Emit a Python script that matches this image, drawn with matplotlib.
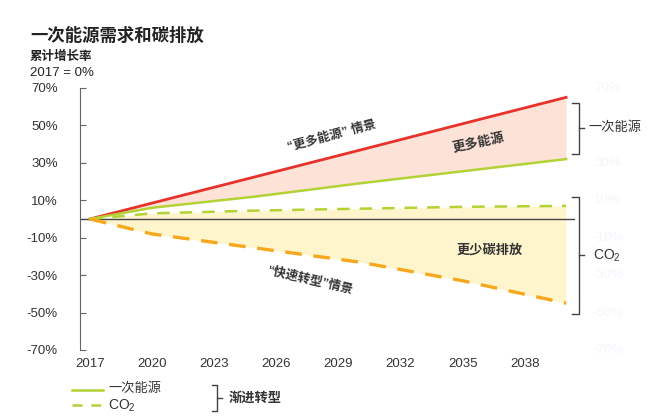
#!/usr/bin/env python3
import matplotlib
matplotlib.use("Agg")
import matplotlib.pyplot as plt

plt.rcParams["font.family"] = ["Liberation Sans", "Noto Sans CJK SC", "DejaVu Sans"]
plt.rcParams["axes.unicode_minus"] = False
plt.rcParams["mathtext.fontset"] = "custom"
plt.rcParams["mathtext.rm"] = "Liberation Sans"
plt.rcParams["mathtext.it"] = "Liberation Sans:italic"

INK = "#333333"
RED = "#e8312a"
GREEN = "#b2d235"
ORANGE = "#f6a81c"
PINK = "#fde3d7"
YELLOW = "#fff5cd"
GHOST = "#f2f5fa"

# data (cumulative growth vs 2017, %)
years = [2017, 2020, 2025, 2030, 2035, 2040]
energy_more = [0, 8.5, 22.6, 36.7, 50.9, 65]      # "更多能源"情景
energy_evolving = [0, 6, 12, 19, 25.5, 32]         # 渐进转型 一次能源
co2_evolving = [0, 3, 4.5, 5.5, 6.5, 7]            # 渐进转型 CO2
co2_rapid = [0, -8, -15.5, -23, -33, -45]          # "快速转型"情景

xticks = [2017, 2020, 2023, 2026, 2029, 2032, 2035, 2038]
yticks = [70, 50, 30, 10, -10, -30, -50, -70]

fig = plt.figure(figsize=(6.6, 4.2), dpi=100)
ax = fig.add_axes([80 / 660, 70 / 420, 495 / 660, 262 / 420])
ax.set_xlim(2016.52, 2040.43)
ax.set_ylim(-70, 70)

ax.fill_between(years, energy_more, energy_evolving, color=PINK, lw=0)
ax.fill_between(years, co2_evolving, co2_rapid, color=YELLOW, lw=0)
ax.axhline(0, color="#444444", lw=1)
ax.plot(years, energy_more, color=RED, lw=2)
ax.plot(years, energy_evolving, color=GREEN, lw=1.8)
ax.plot(years, co2_evolving, color=GREEN, lw=1.8, dashes=(5, 4))
ax.plot(years, co2_rapid, color=ORANGE, lw=2.4, dashes=(5, 3.5))

for s in ["top", "right", "bottom"]:
    ax.spines[s].set_visible(False)
ax.spines["left"].set_color("#666666")
ax.set_yticks(yticks)
ax.set_yticklabels([f"{v}%" for v in yticks], fontsize=9.5, color=INK)
ax.tick_params(axis="y", direction="in", length=4, color="#666666", pad=16)
ax.set_xticks(xticks)
ax.set_xticklabels([str(y) for y in xticks], fontsize=9.5, color=INK)
ax.tick_params(axis="x", length=0, pad=6)

# faint ghost labels on the right
for v in yticks:
    if v == 50:
        continue
    ax.text(2042.0, v, f"{v}%", fontsize=9.5, color=GHOST, va="center", ha="center", clip_on=False)

# in-chart labels
ax.text(2028.7, 44.4, "“更多能源” 情景", fontsize=9, color=INK, rotation=15,
        ha="center", va="center", weight="bold")
ax.text(2035.75, 40.6, "更多能源", fontsize=9.5, color=INK, rotation=12,
        ha="center", va="center", weight="bold")
ax.text(2036.3, -17, "更少碳排放", fontsize=9.5, color=INK, ha="center", va="center",
        weight="bold")
ax.text(2027.6, -33, "“快速转型”情景", fontsize=9, color=INK, rotation=-13,
        ha="center", va="center", weight="bold")


def bracket(x0, x1, y0, y1, xm):
    ym = (y0 + y1) / 2
    kw = dict(color="#444444", lw=1, clip_on=False)
    ax.plot([x0, x1, x1, x0], [y0, y0, y1, y1], **kw)
    ax.plot([x1, xm], [ym, ym], **kw)


bracket(2040.3, 2040.6, 62, 35, 2040.85)
ax.text(2041.1, 49, "一次能源", fontsize=9.5, color=INK, va="center", ha="left", clip_on=False)
bracket(2040.3, 2040.6, 12, -51, 2040.85)
ax.text(2041.3, -19.5, "CO$_2$", fontsize=10, color=INK, va="center", ha="left", clip_on=False)

# titles
fig.text(30 / 660, 1 - 35 / 420, "一次能源需求和碳排放", fontsize=12.5, color="#222222",
         va="center", ha="left", weight="bold")
fig.text(30 / 660, 1 - 57 / 420, "累计增长率", fontsize=9, color="#222222", va="center",
         ha="left", weight="bold")
fig.text(30 / 660, 1 - 73 / 420, "2017 = 0%", fontsize=9.5, color="#222222", va="center", ha="left")

# legend
fig.add_artist(plt.Line2D([72 / 660, 103 / 660], [1 - 390 / 420] * 2, color=GREEN, lw=1.8))
fig.add_artist(plt.Line2D([72 / 660, 103 / 660], [1 - 405 / 420] * 2, color=GREEN, lw=1.8,
                          dashes=(4, 3.5)))
fig.text(108 / 660, 1 - 389 / 420, "一次能源", fontsize=9.5, color=INK, va="center")
fig.text(108 / 660, 1 - 406 / 420, "CO$_2$", fontsize=10, color=INK, va="center")
bx0, bx1, bxm = 212 / 660, 217 / 660, 222 / 660
by0, by1 = 1 - 385 / 420, 1 - 411 / 420
fig.add_artist(plt.Line2D([bx0, bx1, bx1, bx0], [by0, by0, by1, by1], color="#444444", lw=1))
fig.add_artist(plt.Line2D([bx1, bxm], [(by0 + by1) / 2] * 2, color="#444444", lw=1))
fig.text(229 / 660, 1 - 398 / 420, "渐进转型", fontsize=9.5, color=INK, va="center", weight="bold")

fig.savefig("out.png", dpi=100, facecolor="white")
